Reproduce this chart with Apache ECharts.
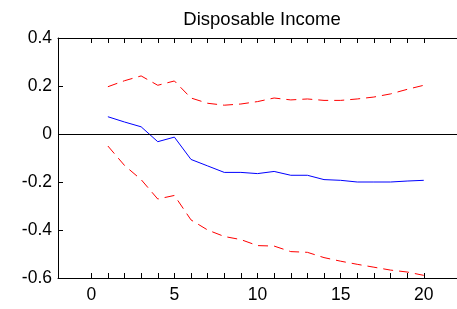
<!DOCTYPE html>
<html style="height: 100%">

<head>
    <meta charset="utf-8">
</head>

<body style="height: 100%; margin: 0; background: #fff">
    <div id="container" style="width: 457px; height: 309px"></div>
    <script type="text/javascript" src="https://cdn.jsdelivr.net/npm/echarts@6/dist/echarts.min.js"></script>
    <script type="text/javascript">
        // impulse response, horizon 1..20
        var periods = [1, 2, 3, 4, 5, 6, 7, 8, 9, 10, 11, 12, 13, 14, 15, 16, 17, 18, 19, 20];
        var response = [0.072, 0.05, 0.03, -0.032, -0.013, -0.106, -0.133, -0.16, -0.16, -0.165,
            -0.156, -0.172, -0.172, -0.19, -0.193, -0.2, -0.2, -0.2, -0.196, -0.193];
        var upperBand = [0.197, 0.222, 0.242, 0.203, 0.221, 0.15, 0.128, 0.12, 0.125, 0.135,
            0.15, 0.142, 0.146, 0.14, 0.14, 0.146, 0.154, 0.167, 0.186, 0.203];
        var lowerBand = [-0.05, -0.131, -0.19, -0.271, -0.256, -0.358, -0.4, -0.427, -0.44, -0.465,
            -0.467, -0.49, -0.493, -0.515, -0.53, -0.543, -0.555, -0.567, -0.575, -0.589];

        var xTicks = [0, 1, 2, 3, 4, 5, 6, 7, 8, 9, 10, 11, 12, 13, 14, 15, 16, 17, 18, 19, 20];
        var xTickLabels = [0, 5, 10, 15, 20];

        function pairs(ys) {
            return periods.map(function (p, i) { return [p, ys[i]]; });
        }

        var font = 'Liberation Sans, Arial, sans-serif';
        var myChart = echarts.init(document.getElementById('container'));

        var option = {
            backgroundColor: '#fff',
            animation: false,
            title: {
                text: 'Disposable Income',
                left: 257,
                top: 5,
                textAlign: 'center',
                textStyle: { fontFamily: font, fontSize: 18.5, fontWeight: 'normal', color: '#000' }
            },
            grid: { left: 58, top: 38, right: -5, bottom: 31 },
            xAxis: [{
                type: 'value',
                min: -2,
                max: 22,
                position: 'bottom',
                splitLine: { show: false },
                axisLine: { onZero: false, lineStyle: { color: '#000', width: 1 } },
                axisTick: { inside: true, length: 5, customValues: xTicks, lineStyle: { color: '#000' } },
                axisLabel: { customValues: xTickLabels, margin: 8, color: '#000', fontFamily: font, fontSize: 17.5 }
            }, {
                type: 'value',
                min: -2,
                max: 22,
                position: 'top',
                splitLine: { show: false },
                axisLine: { onZero: false, lineStyle: { color: '#000', width: 1 } },
                axisTick: { inside: true, length: 5, customValues: xTicks, lineStyle: { color: '#000' } },
                axisLabel: { show: false }
            }],
            yAxis: {
                type: 'value',
                min: -0.6,
                max: 0.4,
                interval: 0.2,
                splitLine: { show: false },
                axisLine: { show: true, onZero: false, lineStyle: { color: '#000', width: 1 } },
                axisTick: { show: true, inside: true, length: 5, lineStyle: { color: '#000' } },
                axisLabel: {
                    margin: 6, color: '#000', fontFamily: font, fontSize: 17.5,
                    formatter: function (v) { return String(Math.round(v * 10) / 10); }
                }
            },
            series: [{
                type: 'line',
                data: pairs(response),
                symbol: 'none',
                lineStyle: { color: '#0000ff', width: 1 },
                markLine: {
                    silent: true,
                    symbol: 'none',
                    label: { show: false },
                    lineStyle: { color: '#000', width: 1, type: 'solid' },
                    data: [{ yAxis: 0 }]
                }
            }, {
                type: 'line',
                data: pairs(upperBand),
                symbol: 'none',
                lineStyle: { color: '#ff0000', width: 1, type: [10, 6] }
            }, {
                type: 'line',
                data: pairs(lowerBand),
                symbol: 'none',
                lineStyle: { color: '#ff0000', width: 1, type: [10, 6] }
            }]
        };

        myChart.setOption(option);
    </script>
</body>

</html>
